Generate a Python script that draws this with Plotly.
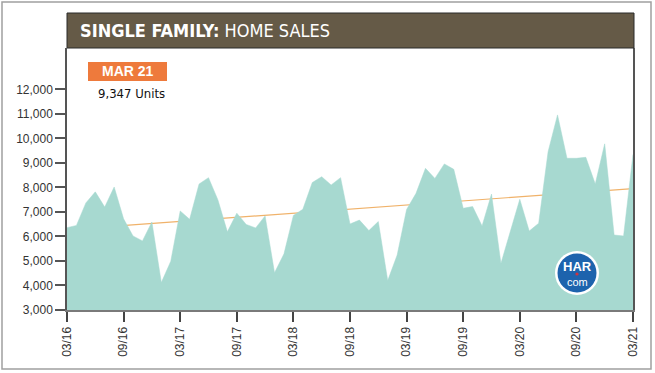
import plotly.graph_objects as go

# ---------------- data ----------------
tick_labels = ["03/16", "09/16", "03/17", "09/17", "03/18", "09/18",
               "03/19", "09/19", "03/20", "09/20", "03/21"]
tick_index = [0, 6, 12, 18, 24, 30, 36, 42, 48, 54, 60]

sales = [6360, 6450, 7370, 7820, 7200, 8020, 6720, 6020, 5820, 6590,
         4120, 4990, 7040, 6700, 8140, 8400, 7490, 6190, 6950, 6490,
         6350, 6840, 4520, 5290, 6860, 7110, 8200, 8440, 8100, 8400,
         6510, 6670, 6240, 6610, 4200, 5240, 7100, 7760, 8780, 8370,
         8960, 8740, 7150, 7220, 6430, 7730, 4900, 6200, 7520, 6220,
         6540, 9460, 10960, 9190, 9190, 9230, 8140, 9780, 6060, 6020,
         9347]
month_index = list(range(len(sales)))

trend_x = [0, 60]
trend_y = [6280, 7955]

y_ticks = [3000, 4000, 5000, 6000, 7000, 8000, 9000, 10000, 11000, 12000]

title_bold = "SINGLE FAMILY:"
title_rest = "HOME SALES"
badge_text = "MAR 21"
latest_text = "9,347 Units"

# ---------------- layout helpers ----------------
W, H = 655, 373
L, R, T, B = 67, 22, 48, 63
PW, PH = W - L - R, H - T - B


def px(x):
    return (x - L) / PW


def py(y):
    return (H - B - y) / PH


fig = go.Figure()

fig.add_trace(go.Scatter(
    x=month_index, y=sales, mode="lines",
    line=dict(color="#a7d9d0", width=0.5),
    fill="tozeroy", fillcolor="#a7d9d0",
    showlegend=False, hoverinfo="skip",
))

shapes = [
    # trend line (drawn beneath the area, on the data scale)
    dict(type="line", xref="x", yref="y",
         x0=trend_x[0], x1=trend_x[1], y0=trend_y[0], y1=trend_y[1],
         line=dict(color="#f0b26a", width=1.2), layer="below"),
    # outer border
    dict(type="rect", xref="paper", yref="paper",
         x0=px(2), x1=px(651), y0=py(369), y1=py(2),
         line=dict(color="#a0a0a0", width=1.5), fillcolor="rgba(0,0,0,0)",
         layer="below"),
    # title bar
    dict(type="rect", xref="paper", yref="paper",
         x0=px(67), x1=px(634), y0=py(48), y1=py(13),
         line=dict(color="#2b2b2b", width=1), fillcolor="#655a47"),
    # orange badge
    dict(type="rect", xref="paper", yref="paper",
         x0=px(88), x1=px(167), y0=py(81), y1=py(62),
         line=dict(width=0), fillcolor="#ee7a3c"),
    # logo
    dict(type="circle", xref="paper", yref="paper",
         x0=px(577 - 22), x1=px(577 + 22), y0=py(273 + 22), y1=py(273 - 22),
         line=dict(width=0), fillcolor="#ffffff"),
    dict(type="circle", xref="paper", yref="paper",
         x0=px(577 - 19.5), x1=px(577 + 19.5), y0=py(273 + 19.5), y1=py(273 - 19.5),
         line=dict(width=0), fillcolor="#1d63ad"),
    dict(type="circle", xref="paper", yref="paper",
         x0=px(577 - 1.6), x1=px(577 + 1.6), y0=py(274 + 1.6), y1=py(274 - 1.6),
         line=dict(width=0), fillcolor="#d0343f"),
]

annotations = [
    dict(xref="paper", yref="paper", x=px(78), y=py(31),
         xanchor="left", yanchor="middle", showarrow=False,
         text=f"<b>{title_bold}</b> {title_rest}",
         font=dict(family="DejaVu Sans Condensed", size=18, color="#ffffff")),
    dict(xref="paper", yref="paper", x=px(127.5), y=py(71.5),
         xanchor="center", yanchor="middle", showarrow=False,
         text=f"<b>{badge_text}</b>",
         font=dict(family="Liberation Sans", size=14, color="#ffffff")),
    dict(xref="paper", yref="paper", x=px(96), y=py(94),
         xanchor="left", yanchor="middle", showarrow=False,
         text=latest_text,
         font=dict(family="DejaVu Sans Condensed", size=13, color="#111111")),
    dict(xref="paper", yref="paper", x=px(577), y=py(266),
         xanchor="center", yanchor="middle", showarrow=False,
         text="<b>HAR</b>",
         font=dict(family="Liberation Sans", size=13, color="#ffffff")),
    dict(xref="paper", yref="paper", x=px(577), y=py(282),
         xanchor="center", yanchor="middle", showarrow=False,
         text="com",
         font=dict(family="Liberation Sans", size=11, color="#ffffff")),
]

fig.update_layout(
    width=W, height=H,
    margin=dict(l=L, r=R, t=T, b=B, autoexpand=False),
    paper_bgcolor="#ffffff", plot_bgcolor="#ffffff",
    shapes=shapes, annotations=annotations,
    font=dict(family="Liberation Sans", size=12, color="#333333"),
    xaxis=dict(
        range=[0, 60], tickmode="array", tickvals=tick_index,
        ticktext=tick_labels, tickangle=-90, automargin=False,
        ticks="outside", ticklen=10, tickcolor="#444444", tickwidth=1.5,
        showline=True, linecolor="#7a7a7a", linewidth=2,
        showgrid=False, zeroline=False,
        tickfont=dict(family="Liberation Sans", size=12, color="#333333"),
    ),
    yaxis=dict(
        range=[3000, 13690], tickmode="array", tickvals=y_ticks,
        tickformat=",", ticks="outside", ticklen=10, tickcolor="#555555",
        tickwidth=1.5, automargin=False,
        showline=True, linecolor="#555555", linewidth=1.5, mirror=True,
        showgrid=False, zeroline=False,
        tickfont=dict(family="Liberation Sans", size=12, color="#333333"),
    ),
)

fig.write_html(
    "out.html",
    config={"displayModeBar": False},
    post_script="document.body.style.margin='0';document.body.style.overflow='hidden';",
)
